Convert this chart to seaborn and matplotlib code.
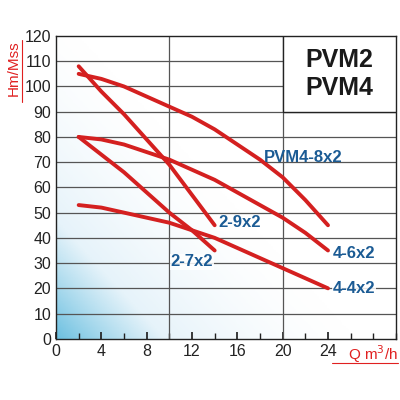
import matplotlib
matplotlib.use("Agg")
import matplotlib.pyplot as plt
from matplotlib.colors import LinearSegmentedColormap
import numpy as np
import seaborn as sns

sns.set_theme(style="white")
plt.rcParams['font.family'] = ['Liberation Sans', 'DejaVu Sans']

# curve data
q_29 = [2, 4, 6, 8, 10, 12, 14]
h_29 = [108, 98, 89, 79, 69, 57, 45]
q_48 = [2, 4, 6, 8, 10, 12, 14, 16, 18, 20, 22, 24]
h_48 = [105, 103, 100, 96, 92, 88, 83, 77, 71, 64, 55, 45]
q_46 = [2, 4, 6, 8, 10, 12, 14, 16, 18, 20, 22, 24]
h_46 = [80, 79, 77, 74, 71, 67, 63, 58, 53, 48, 42, 35]
q_27 = [2, 4, 6, 8, 10, 12, 14]
h_27 = [80, 73, 66, 58, 50, 43, 35]
q_44 = [2, 4, 6, 8, 10, 12, 14, 16, 18, 20, 22, 24]
h_44 = [53, 52, 50, 48, 46, 43, 40, 36, 32, 28, 24, 20]

curves = [(q_29, h_29), (q_48, h_48), (q_46, h_46), (q_27, h_27), (q_44, h_44)]
labels = [("2-9x2", 14.3, 46), ("PVM4-8x2", 18.3, 72), ("4-6x2", 24.4, 34),
          ("2-7x2", 10.1, 30.5), ("4-4x2", 24.4, 20)]

fig, ax = plt.subplots(figsize=(4, 4), dpi=100)
fig.subplots_adjust(left=0.14, right=0.99, top=0.91, bottom=0.153)

# blue-to-white gradient background
cmap = LinearSegmentedColormap.from_list("bg", ["#ffffff", "#e6f3fa", "#6cc0e0"])
xx, yy = np.meshgrid(np.linspace(0, 1, 200), np.linspace(0, 1, 200))
grad = np.clip(1 - (xx * 1.1 + yy * 0.9), 0, 1) ** 1.6
ax.imshow(grad, extent=[0, 30, 0, 120], origin='lower', aspect='auto',
          cmap=cmap, vmin=0, vmax=1, zorder=0)

for q, h in curves:
    sns.lineplot(x=q, y=h, ax=ax, color="#d42020", lw=2.8, zorder=3)

for txt, x, y in labels:
    ax.text(x, y, txt, color="#1b5b94", fontsize=12, fontweight='bold', va='center',
            zorder=4, bbox=dict(facecolor='white', edgecolor='none', pad=0.5, alpha=0.85)
            if txt != "PVM4-8x2" else None)

ax.set_xlim(0, 30)
ax.set_ylim(0, 120)
ax.set_xticks(range(0, 25, 4))
ax.set_xticks(range(0, 31, 2), minor=True)
ax.set_yticks(range(0, 121, 10))
for v in (10, 20):
    ax.axvline(v, color='#555555', lw=0.9, zorder=1)
for v in range(10, 120, 10):
    ax.axhline(v, color='#555555', lw=0.9, zorder=1)
ax.tick_params(axis='both', which='both', direction='in', length=4, labelsize=11.5,
               bottom=True, left=False, colors='#222222')
ax.tick_params(axis='x', which='major', length=5)
for s in ax.spines.values():
    s.set_color('#222222')
    s.set_linewidth(1)

# title box
ax.add_patch(plt.Rectangle((20, 90), 10, 30, facecolor='white', edgecolor='#222222', lw=1, zorder=5))
ax.text(25, 105, "PVM2\nPVM4", ha='center', va='center', fontsize=18, fontweight='bold',
        color='#1a1a1a', linespacing=1.2, zorder=6)

fig.text(0.035, 0.9, "Hm/Mss", rotation=90, ha='center', va='top', color='#e02020', fontsize=11)
fig.add_artist(plt.Line2D([0.055, 0.055], [0.745, 0.9], color='#e02020', lw=0.8))
fig.text(0.995, 0.115, "Q m$^3$/h", ha='right', va='center', color='#e02020', fontsize=11)
fig.add_artist(plt.Line2D([0.83, 0.995], [0.093, 0.093], color='#e02020', lw=0.8))

fig.savefig("out.png", dpi=100)
